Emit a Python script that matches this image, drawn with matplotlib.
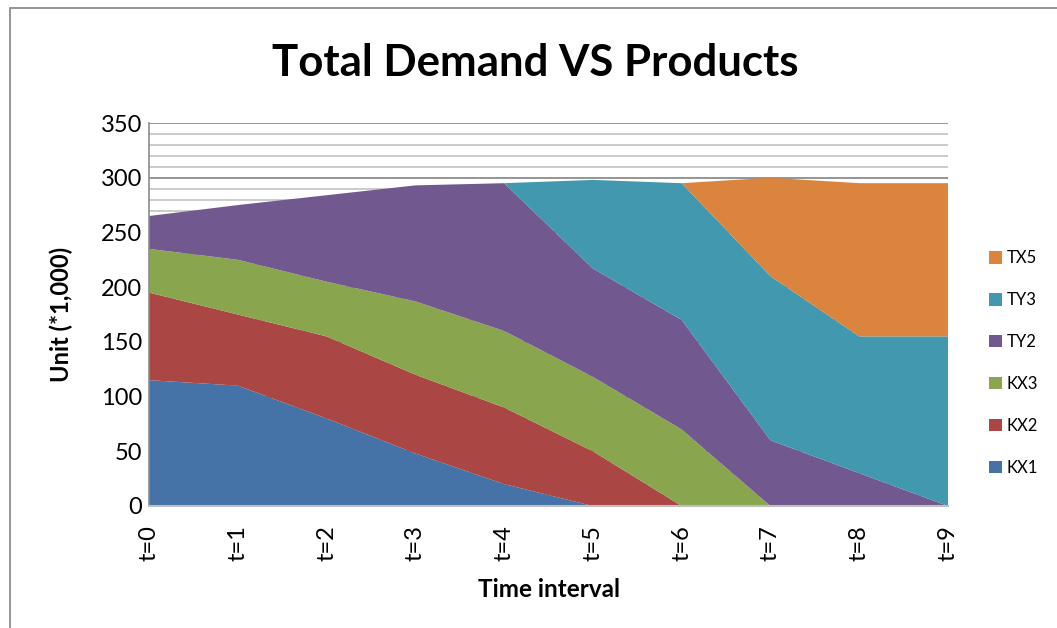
import matplotlib
matplotlib.use("Agg")
import matplotlib.pyplot as plt
from matplotlib.patches import Rectangle
import numpy as np

# Time steps and product volumes (units of 1,000)
periods = ["t=0", "t=1", "t=2", "t=3", "t=4", "t=5", "t=6", "t=7", "t=8", "t=9"]
kx1 = [115, 110, 80, 48, 20, 0, 0, 0, 0, 0]
kx2 = [80, 65, 75, 72, 70, 50, 0, 0, 0, 0]
kx3 = [40, 50, 50, 67, 70, 68, 70, 0, 0, 0]
ty2 = [30, 50, 79, 106, 135, 99, 100, 60, 30, 0]
ty3 = [0, 0, 0, 0, 0, 81, 125, 150, 125, 155]
tx5 = [0, 0, 0, 0, 0, 0, 0, 90, 140, 140]

series_names = ["KX1", "KX2", "KX3", "TY2", "TY3", "TX5"]
series_values = [kx1, kx2, kx3, ty2, ty3, tx5]
colors = ["#4572A7", "#AA4643", "#89A54E", "#71588F", "#4198AF", "#DB843D"]

plt.rcParams["font.family"] = ["Lato", "DejaVu Sans"]

fig = plt.figure(figsize=(10.57, 6.28), dpi=100)
ax = fig.add_axes([149 / 1057, 1 - 506 / 628, (948 - 149) / 1057, (506 - 123) / 628])

x = np.arange(len(periods))
polys = ax.stackplot(x, *series_values, colors=colors, labels=series_names,
                     linewidth=0, zorder=2)

ax.set_xlim(0, len(periods) - 1)
ax.set_ylim(0, 350)
ax.set_yticks(np.arange(0, 351, 50))
ax.set_yticks(np.arange(0, 351, 10), minor=True)
ax.yaxis.grid(True, which="major", color="#8c8c8c", linewidth=1.3, zorder=0)
ax.yaxis.grid(True, which="minor", color="#bdbdbd", linewidth=1.1, zorder=0)
ax.set_axisbelow(True)

ax.set_xticks(x)
ax.set_xticklabels(periods, rotation=90, fontsize=17)
ax.tick_params(axis="y", which="both", length=0, labelsize=17, pad=5)
ax.tick_params(axis="x", length=0, pad=14)

for side in ["top", "right"]:
    ax.spines[side].set_visible(False)
ax.spines["left"].set_color("#8c8c8c")
ax.spines["bottom"].set_color("#bfbfbf")
ax.spines["left"].set_linewidth(1.2)
ax.spines["bottom"].set_linewidth(1.5)
ax.spines["left"].set_zorder(3)
ax.spines["bottom"].set_zorder(3)

ax.set_xlabel("Time interval", fontsize=17.5, fontweight="bold", labelpad=12)
ax.set_ylabel("Unit (*1,000)", fontsize=17, fontweight="bold", labelpad=20)

fig.suptitle("Total Demand VS Products", x=535 / 1057, y=1 - 63 / 628,
             va="center", fontsize=31.5, fontweight="bold")

handles, labels = ax.get_legend_handles_labels()
leg = fig.legend(handles[::-1], labels[::-1], loc="center left",
                 bbox_to_anchor=(974 / 1057, 1 - 363 / 628), frameon=False,
                 fontsize=12, handlelength=0.75, handleheight=0.75,
                 handletextpad=0.3, labelspacing=1.55)

# Chart frame
fig.patches.append(Rectangle((10 / 1057, -0.05), 1.2, 1 - 8 / 628 + 0.05,
                             transform=fig.transFigure, fill=False,
                             edgecolor="#8c8c8c", linewidth=1.3))

fig.savefig("out.png", dpi=100)
